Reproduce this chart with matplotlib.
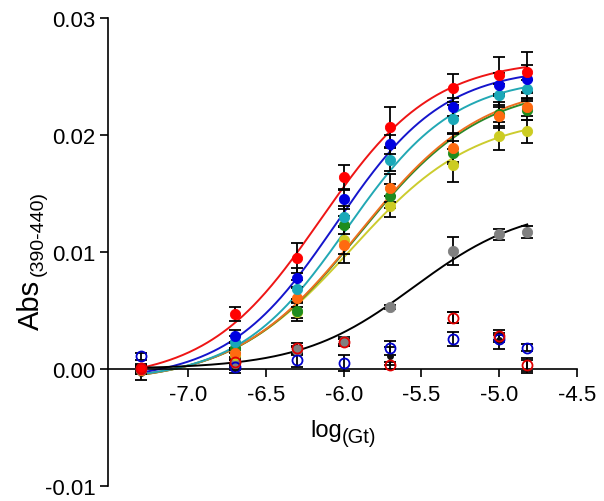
import numpy as np
import matplotlib
matplotlib.use("Agg")
import matplotlib.pyplot as plt

plt.rcParams['font.family'] = ['Liberation Sans', 'DejaVu Sans']

# ---- data ----
log_gt = [-7.3, -6.7, -6.3, -6.0, -5.7, -5.3, -5.0, -4.82]

red_y    = [0.0000, 0.0047, 0.0095, 0.0164, 0.0207, 0.0240, 0.0251, 0.0254]
blue_y   = [0.0000, 0.0028, 0.0078, 0.0145, 0.0192, 0.0224, 0.0243, 0.0248]
cyan_y   = [0.0000, 0.0023, 0.0068, 0.0130, 0.0179, 0.0214, 0.0234, 0.0239]
green_y  = [0.0000, 0.0018, 0.0050, 0.0123, 0.0148, 0.0185, 0.0218, 0.0221]
orange_y = [-0.0001, 0.0014, 0.0061, 0.0106, 0.0155, 0.0189, 0.0216, 0.0224]
yellow_y = [-0.0001, 0.0012, 0.0049, 0.0110, 0.0139, 0.0174, 0.0199, 0.0203]
gray_y   = [0.0000, 0.0005, 0.0016, 0.0024, 0.0053, 0.0101, 0.0115, 0.0117]
black_y  = [-0.0003, 0.0001, 0.0016, np.nan, 0.0011, np.nan, 0.0025, np.nan]
ored_y   = [0.0001, 0.0006, 0.0018, 0.0023, 0.0003, 0.0044, 0.0028, 0.0003]
oblue_y  = [0.0011, 0.0002, 0.0008, 0.0005, 0.0018, 0.0026, 0.0026, 0.0018]

red_e    = [0.0003, 0.0006, 0.0013, 0.0010, 0.0017, 0.0012, 0.0016, 0.0017]
blue_e   = [0.0003, 0.0005, 0.0008, 0.0008, 0.0008, 0.0008, 0.0010, 0.0012]
cyan_e   = [0.0003, 0.0005, 0.0008, 0.0009, 0.0010, 0.0012, 0.0010, 0.0008]
green_e  = [0.0003, 0.0004, 0.0006, 0.0008, 0.0010, 0.0010, 0.0010, 0.0008]
orange_e = [0.0003, 0.0004, 0.0008, 0.0015, 0.0012, 0.0012, 0.0010, 0.0008]
yellow_e = [0.0003, 0.0004, 0.0008, 0.0012, 0.0009, 0.0014, 0.0012, 0.0010]
gray_e   = [0.0003, 0.0003, 0.0003, 0.0003, 0.0002, 0.0012, 0.0005, 0.0005]
black_e  = [0.0006, 0.0004, 0.0004, 0.0003, 0.0008, 0.0005, 0.0008, 0.0006]
ored_e   = [0.0003, 0.0003, 0.0004, 0.0003, 0.0003, 0.0005, 0.0003, 0.0005]
oblue_e  = [0.0003, 0.0003, 0.0006, 0.0007, 0.0006, 0.0006, 0.0003, 0.0003]
black_bar_y = [-0.0003, 0.0001, 0.0016, 0.0023, 0.0011, 0.0044, 0.0025, 0.0003]

# fitted-curve parameters (bottom, top, logEC50, hill)
curve_names  = ['yellow', 'green', 'orange', 'cyan', 'blue', 'red', 'black']
curve_bottom = [-0.0012, -0.0012, -0.0012, -0.0010, -0.0010, -0.0010, 0.0000]
curve_top    = [0.0217, 0.0243, 0.0245, 0.0250, 0.0258, 0.0265, 0.0140]
curve_ec50   = [-5.95, -5.90, -5.90, -5.98, -6.05, -6.15, -5.55]
curve_hill   = [1.10, 1.10, 1.10, 1.25, 1.25, 1.20, 1.20]
curve_colors = ['#cccc2e', '#2a8a2a', '#ee7020', '#22a8b4', '#1515cc', '#ee1515', '#000000']

y_ticks = [-0.01, 0.00, 0.01, 0.02, 0.03]
y_ticklabels = ['-0.01', '0.00', '0.01', '0.02', '0.03']
x_ticks = [-7.0, -6.5, -6.0, -5.5, -5.0, -4.5]
x_ticklabels = ['-7.0', '-6.5', '-6.0', '-5.5', '-5.0', '-4.5']

# ---- figure ----
fig = plt.figure(figsize=(6.04, 5.02), dpi=100)
ax = fig.add_axes([108/604, 15/502, (577-108)/604, (487-19)/502])
ax.set_xlim(-7.515, -4.5)
ax.set_ylim(-0.01, 0.03)

xs = np.linspace(log_gt[0], log_gt[-1], 300)
for b, t, e, h, c in zip(curve_bottom, curve_top, curve_ec50, curve_hill, curve_colors):
    ys = b + (t - b) / (1 + 10 ** ((e - xs) * h))
    ax.plot(xs, ys, color=c, lw=1.4, zorder=2)

filled = [
    (gray_y, gray_e, '#808080'),
    (yellow_y, yellow_e, '#cccc22'),
    (green_y, green_e, '#1e8c1e'),
    (orange_y, orange_e, '#ff6a10'),
    (cyan_y, cyan_e, '#1aa8b8'),
    (blue_y, blue_e, '#0000e0'),
    (red_y, red_e, '#ff0000'),
]
ax.errorbar(log_gt, black_bar_y, yerr=black_e, fmt='none', ecolor='black', elinewidth=1.3,
            capsize=4.5, capthick=1.3, zorder=3)
ax.plot(log_gt, black_y, 'o', color='#101010', ms=5, mew=0, zorder=4)
for yv, ev, c in filled:
    ax.errorbar(log_gt, yv, yerr=ev, fmt='none', ecolor='black', elinewidth=1.3,
                capsize=4.5, capthick=1.3, zorder=3)
    ax.plot(log_gt, yv, 'o', color=c, ms=7.4, mec=c, mew=0.6, zorder=4)

for yv, ev, c in [(oblue_y, oblue_e, '#0000cc'), (ored_y, ored_e, '#e00000')]:
    ax.errorbar(log_gt, yv, yerr=ev, fmt='none', ecolor='black', elinewidth=1.3,
                capsize=4.5, capthick=1.3, zorder=3)
    ax.plot(log_gt, yv, 'o', mfc='none', mec=c, ms=7.2, mew=1.3, zorder=5)

for s in ['top', 'right']:
    ax.spines[s].set_visible(False)
ax.spines['bottom'].set_position(('data', 0))
ax.spines['left'].set_bounds(-0.01, 0.03)
for s in ['left', 'bottom']:
    ax.spines[s].set_linewidth(1.2)

ax.set_xticks(x_ticks)
ax.set_xticklabels(x_ticklabels)
ax.set_yticks(y_ticks)
ax.set_yticklabels(y_ticklabels)
ax.tick_params(axis='both', direction='out', length=6, width=1.2, labelsize=16)
ax.tick_params(axis='x', pad=5)
ax.tick_params(axis='y', pad=3)

# axis titles
fig.text(31/604, 1 - 305/502, 'Abs', rotation=90, fontsize=21, ha='center', va='center')
fig.text(38/604, 1 - 234/502, '(390-440)', rotation=90, fontsize=14, ha='center', va='center')
fig.text(342/604, 1 - 437/502, 'log', fontsize=17, ha='right', va='baseline')
fig.text(342/604, 1 - 443/502, '(Gt)', fontsize=14.5, ha='left', va='baseline')

fig.savefig('out.png', dpi=100)
